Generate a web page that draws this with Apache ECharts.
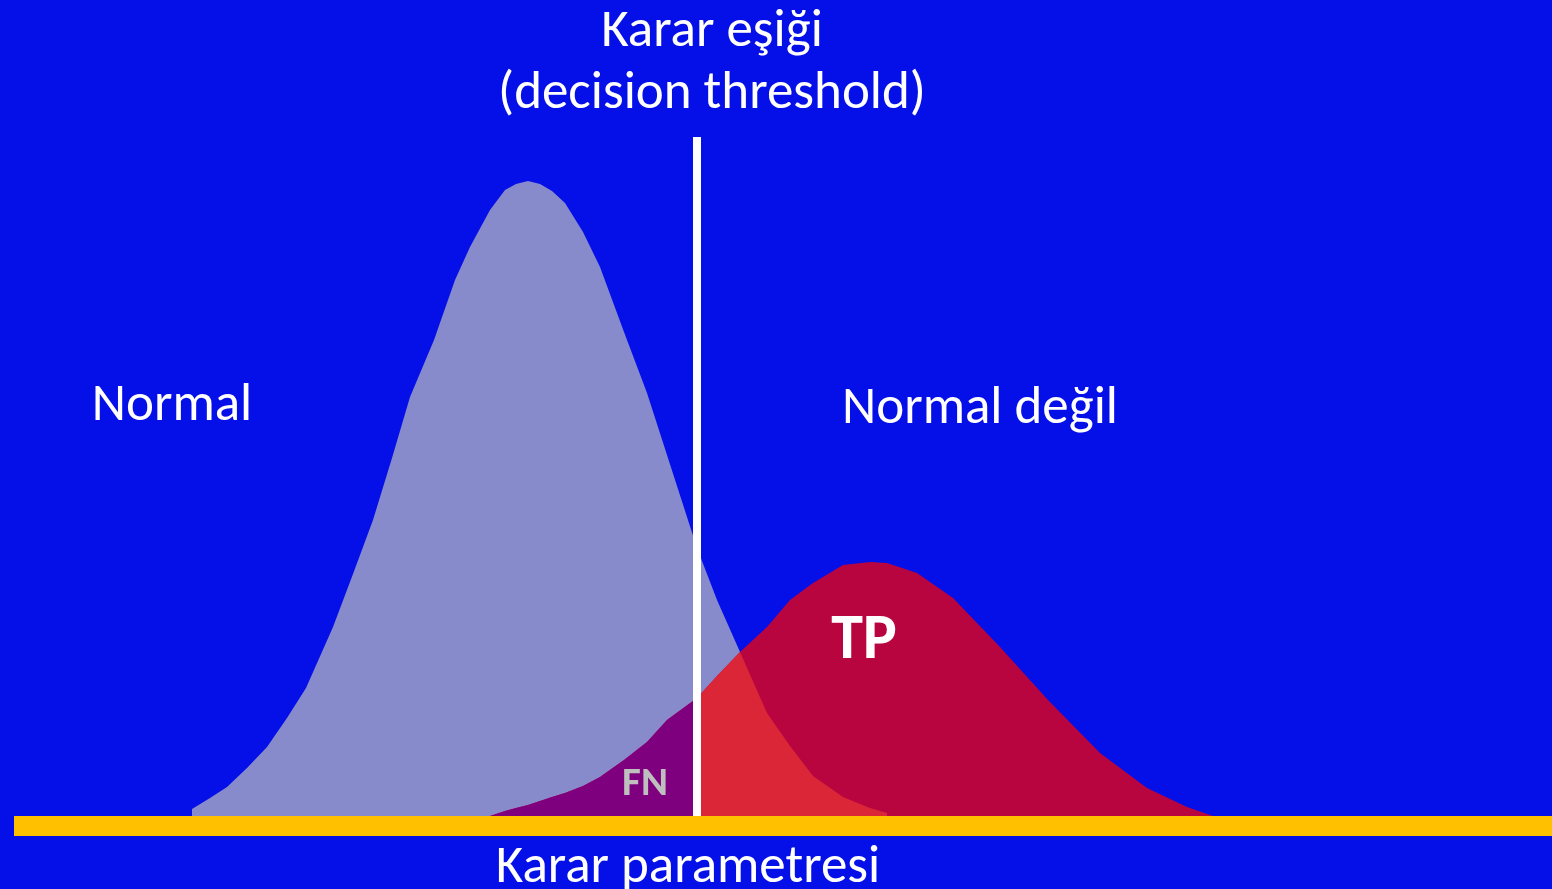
<!DOCTYPE html>
<html>
<head>
<meta charset="utf-8">
<title>Karar eşiği</title>
<script src="https://cdn.jsdelivr.net/npm/echarts@6/dist/echarts.min.js"></script>
<style>
  html, body { margin: 0; padding: 0; background: #0510E8; }
  #chart { width: 1552px; height: 889px; }
</style>
</head>
<body>
<div id="chart"></div>
<script>
// karar parametresi ekseni (ortak x noktaları)
var xs = [192, 210, 227, 247, 267, 287, 306, 333, 353, 373, 392, 410, 434, 455, 470,
          490, 505, 516, 528, 540, 552, 565, 583, 600, 624, 647, 667, 697, 717, 740,
          767, 790, 813, 843, 870, 887, 917, 953, 1000, 1048, 1100, 1147, 1187, 1213];
// Normal dağılım yüksekliği
var normal = [7, 18, 29, 48, 69, 98, 128, 189, 242, 296, 358, 419, 476, 536, 569,
              606, 626, 632, 635, 632, 625, 613, 584, 549, 484, 423, 361, 268, 216, 164,
              103, 70, 40, 19, 8, 3, null, null, null, null, null, null, null, null];
// Normal değil dağılım yüksekliği
var abnormal = [null, null, null, null, null, null, null, null, null, null, null, null, null, null, null,
                0, 5, 8, 11, 15, 19, 23, 30, 39, 56, 74, 96, 118, 140, 164,
                189, 216, 233, 251, 254, 253, 243, 218, 169, 116, 63, 28, 9, 0];
var threshold = 697;
var thresholdTop = 679;

var FONT = 'Carlito, Lato, sans-serif';

function pairs(vals) {
	var out = [];
	for (var i = 0; i < xs.length; i++) {
		if (vals[i] != null) out.push([xs[i], vals[i]]);
	}
	return out;
}

// iki eğrinin ortak alanı, eşiğin solu / sağı
function overlap(left) {
	var out = [];
	for (var i = 0; i < xs.length; i++) {
		if (normal[i] == null || abnormal[i] == null) continue;
		if (left ? xs[i] <= threshold : xs[i] >= threshold) {
			out.push([xs[i], Math.min(normal[i], abnormal[i])]);
		}
	}
	return out;
}

function area(name, data, color) {
	return {
		name: name,
		type: 'line',
		data: data,
		showSymbol: false,
		silent: true,
		lineStyle: { width: 0 },
		areaStyle: { color: color, opacity: 1 },
		itemStyle: { color: color }
	};
}

var myChart = echarts.init(document.getElementById('chart'));

var fnSeries = area('FN', overlap(true), '#7F007F');
var fpSeries = area('FP', overlap(false), '#DA2637');
fpSeries.markLine = {
	silent: true,
	symbol: 'none',
	label: { show: false },
	lineStyle: { color: '#ffffff', width: 8, type: 'solid' },
	data: [[{ coord: [threshold, 0] }, { coord: [threshold, thresholdTop] }]]
};

function txt(text, x, y, size, opts) {
	opts = opts || {};
	return {
		type: 'text',
		x: x,
		y: y,
		z: 100,
		style: {
			text: text,
			fill: opts.color || '#ffffff',
			font: (opts.bold ? 'bold ' : '') + size + 'px ' + FONT,
			textAlign: 'center',
			textVerticalAlign: 'middle'
		}
	};
}

myChart.setOption({
	backgroundColor: '#0510E8',
	animation: false,
	grid: { left: 14, right: 0, top: 0, bottom: 73 },
	xAxis: {
		type: 'value',
		min: 14,
		max: 1552,
		axisLine: { show: false },
		axisTick: { show: false },
		axisLabel: { show: false },
		splitLine: { show: false }
	},
	yAxis: {
		type: 'value',
		min: 0,
		max: 816,
		show: false,
		splitLine: { show: false }
	},
	series: [
		area('Normal', pairs(normal), '#878BCB'),
		area('Normal değil', pairs(abnormal), '#B8053F'),
		fnSeries,
		fpSeries
	],
	graphic: [
		// sarı taban çubuğu
		{
			type: 'rect',
			z: 50,
			shape: { x: 14, y: 816, width: 1538, height: 20 },
			style: { fill: '#FFC000' }
		},
		txt('Karar eşiği', 712, 33, 53),
		txt('(decision threshold)', 712, 95, 53),
		txt('Normal', 172, 407, 53),
		txt('Normal değil', 980, 410, 53),
		txt('TP', 864, 642, 64, { bold: true }),
		txt('FN', 645, 785, 41, { bold: true, color: '#BFBFBF' }),
		txt('Karar parametresi', 688, 869, 53)
	]
});
</script>
</body>
</html>
